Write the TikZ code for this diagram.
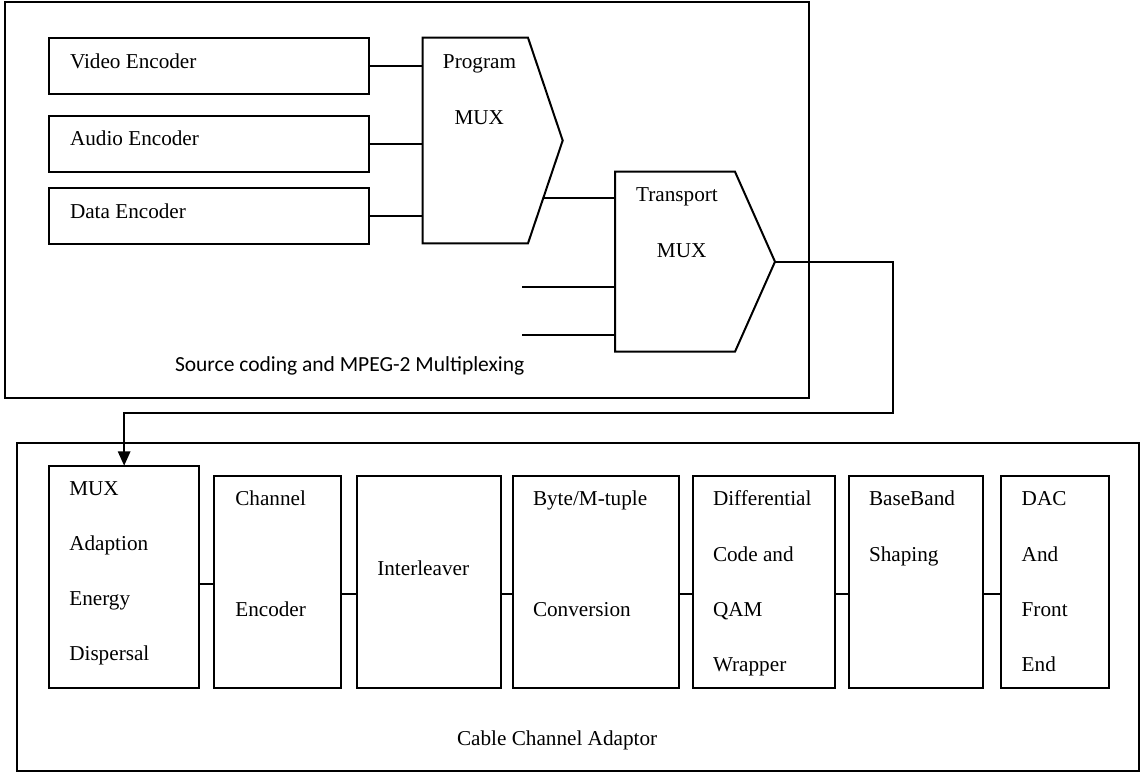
\documentclass[tikz,border=0pt]{standalone}
\usepackage{fontspec}
\setmainfont{Liberation Serif}
\newfontfamily\capfont{Carlito}
\usetikzlibrary{arrows.meta,calc}
\tikzset{
  frame/.style={draw, line width=2pt, inner sep=0pt, outer sep=0pt},
  blk/.style={frame},
  body/.style={inner sep=0pt, outer sep=0pt},
  wire/.style={line width=2pt, line join=miter},
  txt/.style={inner sep=0pt, outer sep=0pt, anchor=base west, font=\fontsize{21.2}{25}\selectfont},
  ctxt/.style={txt, anchor=base},
}
\begin{document}
\begin{tikzpicture}[x=1pt,y=-1pt]
\useasboundingbox (0,0) rectangle (1144,772);

% outer frames
\node[frame, minimum width=804.5pt, minimum height=395.7pt] (src) at (406.75,199.85) {};
\node[frame, minimum width=1122.6pt, minimum height=327.6pt] (cab) at (578,607.1) {};

% encoders
\node[blk, minimum width=320.3pt, minimum height=56pt] (venc) at (209.15,66) {};
\node[blk, minimum width=320.3pt, minimum height=56pt] (aenc) at (209.15,144) {};
\node[blk, minimum width=320.3pt, minimum height=56pt] (denc) at (209.15,216) {};
\node[txt] (vtxt) at (70,68.3) {Video Encoder};
\node[txt] (atxt) at (70,145.7) {Audio Encoder};
\node[txt] (dtxt) at (70,218.3) {Data Encoder};

% program multiplexer
\node[body, minimum width=105.3pt, minimum height=205.6pt] (pmux) at (475.35,140.5) {};
\coordinate (ptip) at ($(pmux.east)+(34.7,0)$);
\draw[wire] (pmux.north west) -- (pmux.north east) -- (ptip) -- (pmux.south east) -- (pmux.south west) -- cycle;
\node[ctxt] (ptxt1) at (479.5,68.3) {Program};
\node[ctxt] (ptxt2) at (479.3,124) {MUX};

% transport multiplexer
\node[body, minimum width=120pt, minimum height=180pt] (tmux) at (675,261.7) {};
\coordinate (ttip) at ($(tmux.east)+(40,0)$);
\draw[wire] (tmux.north west) -- (tmux.north east) -- (ttip) -- (tmux.south east) -- (tmux.south west) -- cycle;
\node[ctxt] (ttxt1) at (677,201.7) {Transport};
\node[ctxt] (ttxt2) at (681.7,257.7) {MUX};

% encoder links
\draw[wire] (venc.east) -- (venc.east -| pmux.west);
\draw[wire] (aenc.east) -- (aenc.east -| pmux.west);
\draw[wire] (denc.east) -- (denc.east -| pmux.west);

% program mux to transport mux
\coordinate (pout) at ($(pmux.south east)!0.4436!(ptip)$);
\draw[wire] (pout) -- (pout -| tmux.west);

% extra transport inputs
\coordinate (in1) at (522,287.3);
\coordinate (in2) at (522,335.3);
\draw[wire] (in1) -- (in1 -| tmux.west);
\draw[wire] (in2) -- (in2 -| tmux.west);

\node[txt, font=\capfont\fontsize{21.5}{25}\selectfont] (srccap) at (175,371.7) {Source coding and MPEG-2 Multiplexing};

% channel adaptor chain
\node[blk, minimum width=150.3pt, minimum height=222.3pt] (madapt) at (124.15,576.85) {};
\node[blk, minimum width=127pt, minimum height=212.3pt] (chenc) at (277.8,581.85) {};
\node[blk, minimum width=144.6pt, minimum height=212.3pt] (inter) at (429,581.85) {};
\node[blk, minimum width=166.3pt, minimum height=212.3pt] (byte) at (596.15,581.85) {};
\node[blk, minimum width=142.3pt, minimum height=212.3pt] (diff) at (763.85,581.85) {};
\node[blk, minimum width=134pt, minimum height=212.3pt] (base) at (916,581.85) {};
\node[blk, minimum width=108.6pt, minimum height=212.3pt] (dac) at (1055,581.85) {};

\coordinate (c1) at ($(madapt.east)+(0,7.15)$);
\draw[wire] (c1) -- (c1 -| chenc.west);
\foreach \a/\b in {chenc/inter, inter/byte, byte/diff, diff/base, base/dac}
  \draw[wire] ($(\a.east)+(0,12.15)$) -- ($(\b.west)+(0,12.15)$);

% multiplexer output to adaptor input
\coordinate (r1) at (893.3,413.3);
\draw[wire, -{Triangle[width=12.3pt,length=14.3pt]}] (ttip) -| (r1) -| (madapt.north);

% block labels
\node[txt] (m1) at (69.3,495) {MUX};
\node[txt] (m2) at (69.3,550.5) {Adaption};
\node[txt] (m3) at (69.3,605.5) {Energy};
\node[txt] (m4) at (69.3,660.5) {Dispersal};
\node[txt] (ce1) at (235.3,505.7) {Channel};
\node[txt] (ce2) at (235.3,616.5) {Encoder};
\node[txt] (il1) at (377.3,575) {Interleaver};
\node[txt] (bm1) at (533,505.7) {Byte/M-tuple};
\node[txt] (bm2) at (533,616.5) {Conversion};
\node[txt] (dq1) at (713,505.7) {Differential};
\node[txt] (dq2) at (713,561) {Code and};
\node[txt] (dq3) at (713,616.5) {QAM};
\node[txt] (dq4) at (713,671) {Wrapper};
\node[txt] (bs1) at (869,505.7) {BaseBand};
\node[txt] (bs2) at (869,561) {Shaping};
\node[txt] (da1) at (1021.7,505.7) {DAC};
\node[txt] (da2) at (1021.7,561) {And};
\node[txt] (da3) at (1021.7,616.5) {Front};
\node[txt] (da4) at (1021.7,671) {End};

\node[txt] (cabcap) at (457,745) {Cable Channel Adaptor};
\end{tikzpicture}
\end{document}
